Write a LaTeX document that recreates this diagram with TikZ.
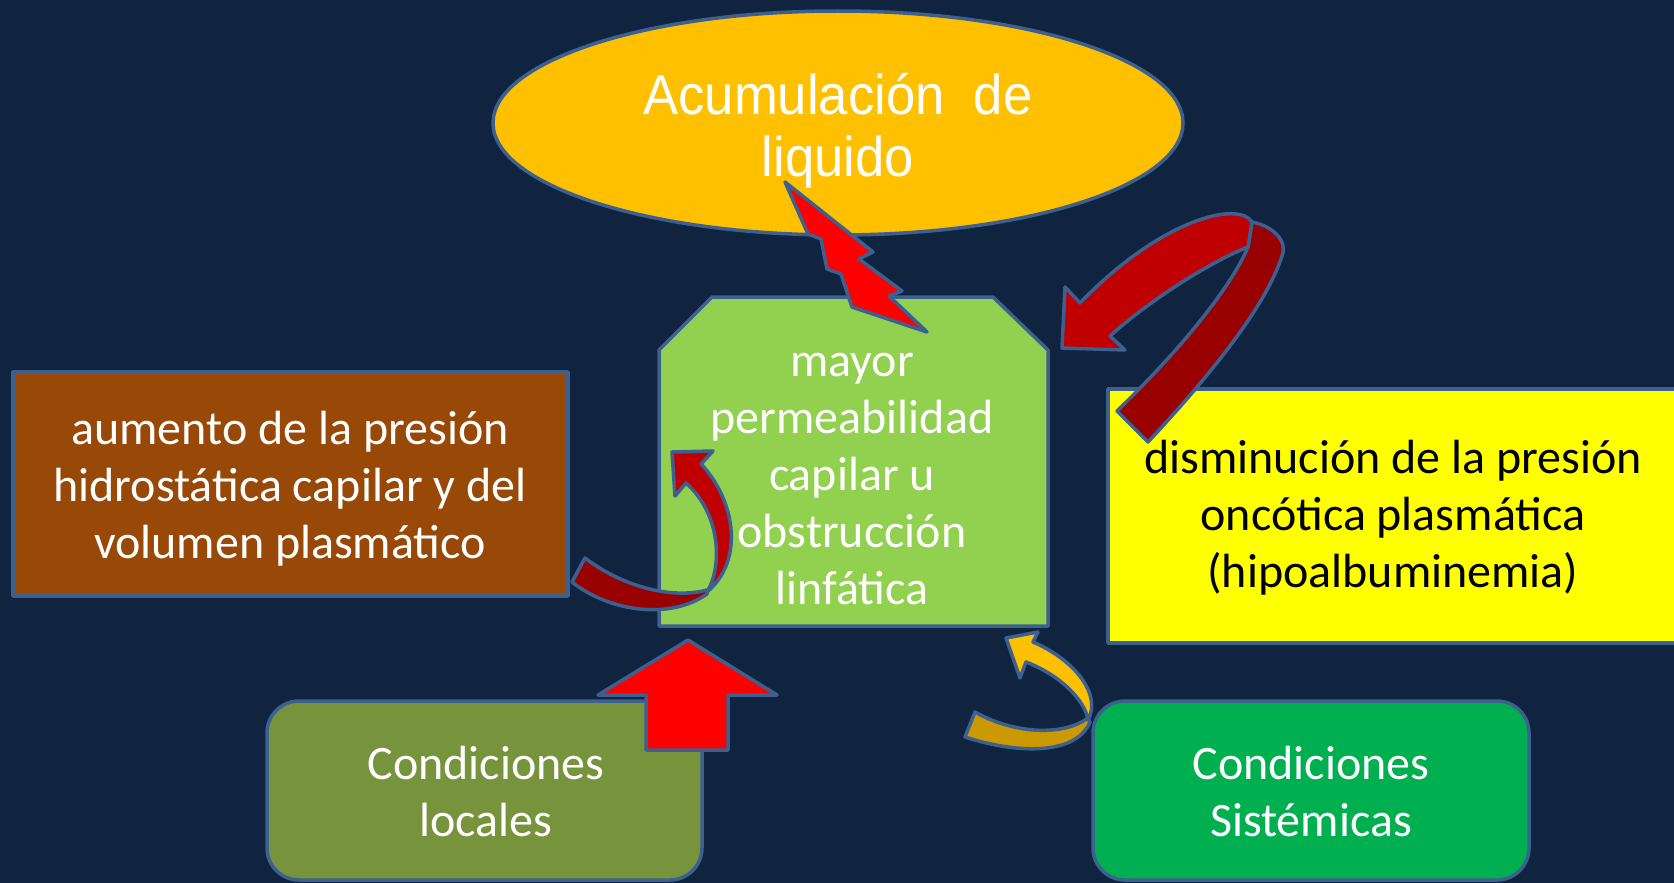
\documentclass[tikz,border=0pt]{standalone}
\usepackage{fontspec}
\setmainfont{Carlito}
\newfontfamily\arialfont[FakeStretch=0.94]{Liberation Sans}
\usetikzlibrary{shapes.geometric}
\definecolor{bgc}{HTML}{10243F}
\definecolor{bord}{HTML}{3C6090}
\definecolor{ellc}{HTML}{FFC000}
\definecolor{permc}{HTML}{92D050}
\definecolor{brownc}{HTML}{984807}
\definecolor{yelc}{HTML}{FFFF00}
\definecolor{olivec}{HTML}{77933C}
\definecolor{greenc}{HTML}{00B050}
\definecolor{redc}{HTML}{FF0000}
\definecolor{redlight}{HTML}{C00000}
\definecolor{reddark}{HTML}{990000}
\definecolor{goldlight}{HTML}{FFC000}
\definecolor{golddark}{HTML}{CC9900}
\begin{document}
\begin{tikzpicture}[x=1pt,y=-1pt,line join=round,
  outl/.style={draw=bord,line width=3.5pt},
  arrowshape/.style={draw=bord,line width=3.5pt,line join=round},
  txt/.style={align=center,inner sep=0pt,text=white,font=\fontsize{48}{57}\selectfont},
  txtdark/.style={txt,text=black}]
\useasboundingbox (0,0) rectangle (1674,883);
\fill[bgc] (0,0) rectangle (1674,883);

% boxes
\node[ellipse,outl,fill=ellc,minimum width=690pt,minimum height=224pt,inner sep=0pt] (acum) at (838,123) {};
\node[align=center,inner sep=0pt,text=white,font=\arialfont\fontsize{56}{62}\selectfont] (acumtxt) at (838,133) {\strut Acumulación\ \ de\\\strut liquido};

\draw[outl,fill=permc] (659,350) -- (712,297) -- (993,297) -- (1048,350) -- (1048,626) -- (659,626) -- cycle;
\node[txt] (perm) at (852,479.4) {\strut mayor\\\strut permeabilidad\\\strut capilar u\\\strut obstrucción\\\strut linfática};

\node[outl,fill=brownc,minimum width=555pt,minimum height=224pt,inner sep=0pt] (hidro) at (290.5,484) {};
\node[txt] (hidrotxt) at (290,489.6) {\strut aumento de la presión\\\strut hidrostática capilar y del\\\strut volumen plasmático};

\draw[outl,fill=yelc] (1108,389) rectangle (1700,643);
\node[txtdark] (onco) at (1393,518.6) {\strut disminución de la presión\\\strut oncótica plasmática\\\strut (hipoalbuminemia)};

\draw[outl,fill=olivec,rounded corners=32pt] (267,701) rectangle (702,880);
\node[txt] (local) at (486,796.1) {\strut Condiciones\\\strut locales};

\draw[outl,fill=greenc,rounded corners=32pt] (1093,701) rectangle (1529,880);
\node[txt] (sist) at (1311,796.1) {\strut Condiciones\\\strut Sistémicas};

% up arrow
\draw[arrowshape,fill=redc] (688,640) -- (598,695) -- (646,695) -- (646,750) -- (728,750) -- (728,695) -- (777,695) -- cycle;

% lightning bolt
\draw[arrowshape,fill=redc] (785,182) -- (808,234) -- (821,239) -- (827,269) -- (841,274) -- (852,307) -- (927,332)
  -- (889,296) -- (902,291) -- (859,259) -- (873,252) -- cycle;

% big curved arrow (top right)
\draw[arrowshape,fill=reddark] (1252,222) .. controls (1272,226) and (1288,240) .. (1282,256)
  .. controls (1266,305) and (1215,370) .. (1148,442) -- (1117,411)
  .. controls (1175,355) and (1230,290) .. (1248,247) -- cycle;
\draw[arrowshape,fill=redlight] (1252,222) .. controls (1238,200) and (1160,220) .. (1080,303)
  -- (1065,287) -- (1062,348) -- (1125,350) -- (1110,336)
  .. controls (1150,300) and (1210,262) .. (1248,247) -- cycle;

% left curved arrow
\draw[arrowshape,fill=reddark] (707,590) .. controls (670,600) and (620,585) .. (585,558)
  -- (572,582) .. controls (610,612) and (670,620) .. (707,594) -- cycle;
\draw[arrowshape,fill=redlight] (672,452) -- (713,451) -- (701,464)
  .. controls (735,500) and (745,560) .. (707,592)
  .. controls (722,568) and (722,515) .. (686,483)
  -- (675,496) -- cycle;

% yellow curved arrow
\draw[arrowshape,fill=golddark] (1088,718) .. controls (1060,738) and (1010,732) .. (975,712)
  -- (965,737) .. controls (1010,752) and (1075,758) .. (1090,722) -- cycle;
\draw[arrowshape,fill=goldlight] (1006,638) -- (1038,632) -- (1033,642)
  .. controls (1075,660) and (1102,695) .. (1088,720)
  .. controls (1085,700) and (1060,675) .. (1026,662)
  -- (1020,678) -- cycle;
\end{tikzpicture}
\end{document}
